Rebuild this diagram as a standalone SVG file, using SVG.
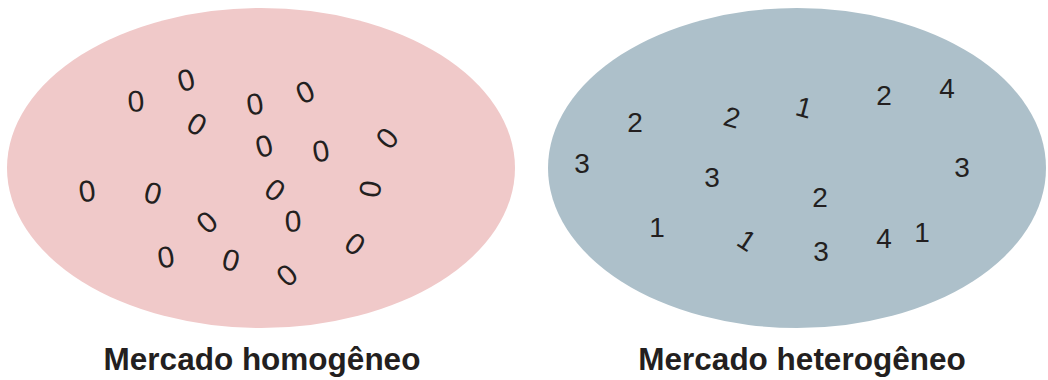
<svg xmlns="http://www.w3.org/2000/svg" width="1048" height="380" viewBox="0 0 1048 380">
  <style>
    .z { font-family: "Liberation Sans", Arial, sans-serif; font-size: 30px; fill: #231f20; text-anchor: middle; }
    .d { font-family: "Liberation Sans", Arial, sans-serif; font-size: 28px; fill: #231f20; text-anchor: middle; }
    .lbl { font-family: "Liberation Sans", Arial, sans-serif; font-size: 31.5px; font-weight: bold; fill: #231f20; text-anchor: middle; }
  </style>

  <!-- homogeneous market: every unit is the same -->
  <g id="homogeneo">
    <ellipse cx="261" cy="168" rx="254" ry="160" fill="#f0c9c9"/>
    <g class="z">
      <text transform="translate(136,101) rotate(-5)" y="10.5">0</text>
      <text transform="translate(186,80) rotate(-15)" y="10.5">0</text>
      <text transform="translate(197,124) rotate(30)" y="10.5">0</text>
      <text transform="translate(255,104) rotate(-10)" y="10.5">0</text>
      <text transform="translate(305,92) rotate(-25)" y="10.5">0</text>
      <text transform="translate(264,146) rotate(-15)" y="10.5">0</text>
      <text transform="translate(321,151) rotate(-10)" y="10.5">0</text>
      <text transform="translate(387,138) rotate(-50)" y="10.5">0</text>
      <text transform="translate(87,191) rotate(-8)" y="10.5">0</text>
      <text transform="translate(153,193) rotate(15)" y="10.5">0</text>
      <text transform="translate(275,190) rotate(35)" y="10.5">0</text>
      <text transform="translate(370,189) rotate(-80)" y="10.5">0</text>
      <text transform="translate(207,222) rotate(-40)" y="10.5">0</text>
      <text transform="translate(293,221) rotate(-3)" y="10.5">0</text>
      <text transform="translate(355,244) rotate(35)" y="10.5">0</text>
      <text transform="translate(166,257) rotate(-10)" y="10.5">0</text>
      <text transform="translate(231,260) rotate(15)" y="10.5">0</text>
      <text transform="translate(287,275) rotate(-40)" y="10.5">0</text>
    </g>
  </g>

  <!-- heterogeneous market: units differ -->
  <g id="heterogeneo">
    <ellipse cx="797" cy="168" rx="249" ry="160" fill="#adc0ca"/>
    <g class="d">
      <text x="582" y="173">3</text>
      <text x="635" y="132">2</text>
      <text transform="translate(732,117) rotate(15)" y="10">2</text>
      <text transform="translate(804,107) rotate(15)" y="10">1</text>
      <text x="884" y="105">2</text>
      <text x="947" y="98">4</text>
      <text x="962" y="177">3</text>
      <text x="712" y="187">3</text>
      <text x="820" y="207">2</text>
      <text x="657" y="237">1</text>
      <text transform="translate(747,240) rotate(33)" y="10">1</text>
      <text x="821" y="261">3</text>
      <text x="884" y="248">4</text>
      <text x="922" y="242">1</text>
    </g>
  </g>

  <g id="labels">
    <text class="lbl" x="262" y="370">Mercado homogêneo</text>
    <text class="lbl" x="802" y="370">Mercado heterogêneo</text>
  </g>
</svg>
